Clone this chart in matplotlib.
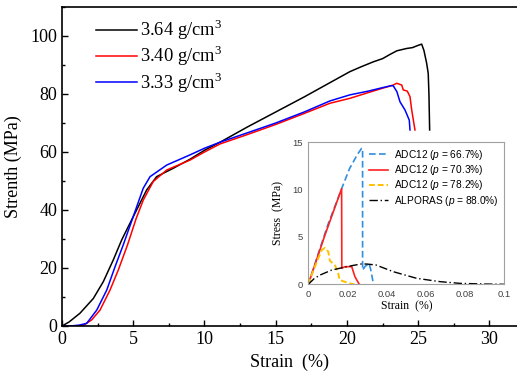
import matplotlib
matplotlib.use("Agg")
import matplotlib.pyplot as plt
from matplotlib.ticker import MultipleLocator, FixedLocator

plt.rcParams["font.family"] = ["Liberation Serif", "DejaVu Serif"]
plt.rcParams["mathtext.fontset"] = "custom"
plt.rcParams["mathtext.rm"] = "Liberation Serif"
plt.rcParams["mathtext.it"] = "Liberation Sans:italic"

# ---- main compression curves (strain %, stress MPa) ----
strain_364 = [0, 0.5, 1.26, 2.2, 2.9, 3.6, 4.19, 5.0, 5.94, 6.64, 7.81, 8.98, 10.0, 11.1,
              13.0, 15.0, 17.0, 18.8, 20.2, 21.0, 21.85, 22.5, 23.0, 23.5, 24.19, 24.6,
              24.9, 25.24, 25.4, 25.59, 25.7, 25.75, 25.8]
stress_364 = [0, 1.4, 4.4, 9.5, 15.3, 22.8, 29.7, 37.7, 46.9, 51.5, 54.4, 57.5, 60.6, 63.4,
              68.6, 73.8, 79.0, 83.9, 87.7, 89.4, 91.1, 92.2, 93.6, 94.9, 95.7, 96.0,
              96.6, 97.2, 95.0, 90.6, 87.1, 80.0, 67.6]

strain_340 = [0, 0.8, 1.5, 2.08, 2.67, 3.37, 3.95, 4.6, 5.2, 5.7, 6.4, 7.35, 8.98, 10.0,
              11.1, 13.0, 15.0, 17.0, 18.8, 20.2, 21.5, 22.5, 23.2, 23.49, 23.84, 23.95,
              24.23, 24.42, 24.54, 24.77]
stress_340 = [0, 0, 0.2, 2.1, 5.5, 12.4, 19.3, 28.0, 37.0, 43.4, 49.8, 53.8, 57.2, 60.0,
              62.8, 66.0, 69.5, 73.3, 76.8, 78.5, 80.5, 82.0, 83.0, 83.7, 83.1, 81.4,
              81.0, 79.1, 74.5, 67.6]

strain_333 = [0, 0.56, 1.2, 1.73, 2.44, 3.14, 3.72, 4.3, 5.24, 5.7, 6.18, 7.35, 8.98, 10.0,
              11.1, 13.0, 15.0, 17.0, 18.8, 20.2, 21.5, 22.5, 23.13, 23.25, 23.5, 23.72,
              24.07, 24.37, 24.42]
stress_333 = [0, 0, 0.3, 0.9, 5.5, 12.4, 20.4, 28.0, 41.1, 47.5, 51.5, 55.5, 59.0, 61.3,
              63.4, 66.6, 70.0, 73.8, 77.6, 79.7, 81.0, 82.2, 82.9, 82.8, 80.8, 77.3,
              74.5, 71.0, 67.6]

main_labels = ["3.64 g/cm$^{3}$", "3.40 g/cm$^{3}$", "3.33 g/cm$^{3}$"]
main_colors = ["#000000", "#ff0000", "#0000ff"]

# ---- inset: reference foams (strain, stress MPa) ----
adc667_x = [0, 0.005, 0.010, 0.017, 0.021, 0.025, 0.0272, 0.0277, 0.0277, 0.0290, 0.0310,
            0.0318, 0.0330, 0.0335]
adc667_y = [0, 3.2, 6.3, 10.1, 12.2, 13.7, 14.36, 14.36, 1.5, 1.9, 2.2, 1.6, 0.3, 0]

adc703_x = [0, 0.0085, 0.0170, 0.0171, 0.0187, 0.0213, 0.0221, 0.0238, 0.0260]
adc703_y = [0, 5.2, 10.1, 1.7, 1.86, 1.86, 1.9, 0.8, 0]

adc782_x = [0, 0.0025, 0.0051, 0.0068, 0.0085, 0.0102, 0.0110, 0.0136, 0.0150, 0.0160,
            0.0210, 0.0235]
adc782_y = [0, 1.4, 2.75, 3.6, 3.85, 3.44, 2.5, 2.0, 1.4, 0.45, 0.1, 0]

alporas_x = [0, 0.0030, 0.0060, 0.0119, 0.0162, 0.0230, 0.0272, 0.0298, 0.0345, 0.0434,
             0.0553, 0.0672, 0.0774, 0.0900, 0.1000]
alporas_y = [0, 0.6, 0.98, 1.5, 1.7, 2.0, 2.15, 2.14, 2.04, 1.33, 0.63, 0.28, 0.1, 0.03, 0]

inset_labels = [r"ADC12 ($p$ = 66.7%)", r"ADC12 ($p$ = 70.3%)",
                r"ADC12 ($p$ = 78.2%)", r"ALPORAS ($p$ = 88.0%)"]

W, H = 517, 378
fig = plt.figure(figsize=(W / 100, H / 100), dpi=100)

def fx(px):
    return px / W

def fy(py):
    return 1 - py / H

ax = fig.add_axes([fx(62), fy(326), fx(517) - fx(62), fy(7) - fy(326)])
for xs, ys, c, lab in zip([strain_364, strain_340, strain_333],
                          [stress_364, stress_340, stress_333],
                          main_colors, main_labels):
    ax.plot(xs, ys, color=c, lw=1.1, label=lab)

ax.set_xlim(0, 31.93)
ax.set_ylim(0, 110)
ax.xaxis.set_major_locator(MultipleLocator(5))
ax.xaxis.set_minor_locator(MultipleLocator(2.5))
ax.yaxis.set_major_locator(FixedLocator([0, 20, 40, 60, 80, 100]))
ax.yaxis.set_minor_locator(MultipleLocator(10))
ax.tick_params(which="both", direction="in", labelsize=13, width=1.0)
ax.tick_params(which="major", length=4)
ax.tick_params(which="minor", length=2.5)
ax.spines["right"].set_visible(False)
for s in ["left", "bottom", "top"]:
    ax.spines[s].set_linewidth(1.2)
ax.set_xlabel("Strain  (%)", fontsize=13, labelpad=4)
ax.set_ylabel("Strenth (MPa)", fontsize=13, labelpad=6)

ax.legend(loc="upper left", bbox_to_anchor=(fx(96), fy(18)), bbox_transform=fig.transFigure,
          frameon=False, fontsize=13.3, handlelength=2.2, handletextpad=0.2,
          borderpad=0, borderaxespad=0, labelspacing=0.12)

# ---- inset axes ----
ins = fig.add_axes([fx(308.3), fy(284.3), fx(504.3) - fx(308.3), fy(142.3) - fy(284.3)])
ins.set_facecolor("white")
ins.plot(adc667_x, adc667_y, color="#2f8ee0", lw=1.2, dashes=(4, 2), label=inset_labels[0])
ins.plot(adc703_x, adc703_y, color="#ff2020", lw=1.2, label=inset_labels[1])
ins.plot(adc782_x, adc782_y, color="#ffc000", lw=1.4, dashes=(3, 1.5), label=inset_labels[2])
ins.plot(alporas_x, alporas_y, color="#000000", lw=1.0, dashes=(6, 2, 1, 2),
         label=inset_labels[3])
ins.set_xlim(0, 0.1)
ins.set_ylim(0, 15)
ins.set_xticks([0, 0.02, 0.04, 0.06, 0.08, 0.1])
ins.set_xticklabels(["0", "0.02", "0.04", "0.06", "0.08", "0.1"])
ins.set_yticks([0, 5, 10, 15])
ins.tick_params(length=0, labelsize=6.8, labelcolor="#404040", pad=4)
for lab in ins.get_xticklabels() + ins.get_yticklabels():
    lab.set_family(["Liberation Sans", "DejaVu Sans"])
for s in ins.spines.values():
    s.set_color("#a0a0a0")
    s.set_linewidth(0.8)
ins.set_xlabel("Strain  (%)", fontsize=8.5, labelpad=1)
ins.set_ylabel("Stress  (MPa)", fontsize=8.5, labelpad=6)
ins.legend(loc="upper left", bbox_to_anchor=(fx(369), fy(148)), bbox_transform=fig.transFigure,
           frameon=False, prop={"family": ["Liberation Sans", "DejaVu Sans"], "size": 7.3},
           handlelength=1.9, handletextpad=0.6, borderpad=0, borderaxespad=0,
           labelspacing=0.12)

fig.savefig("out.png", dpi=100)
